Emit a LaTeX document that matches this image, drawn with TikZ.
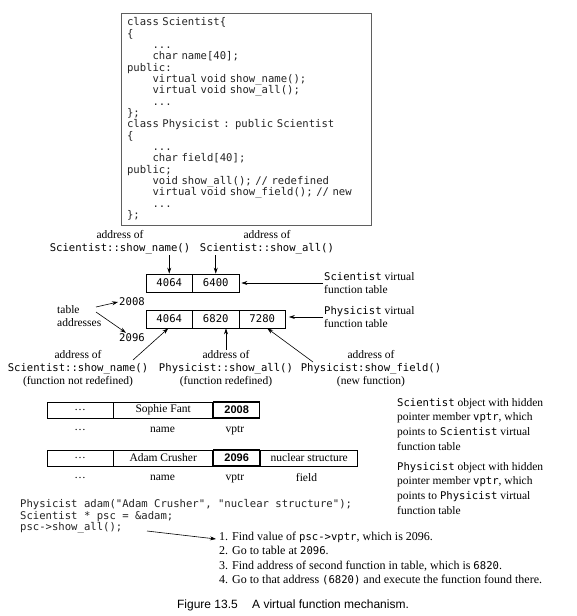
\documentclass[tikz,border=0pt]{standalone}
\usepackage{fontspec}
\setmainfont{Liberation Serif}
\setmonofont{DejaVu Sans Mono}
\newfontfamily\capfont{Liberation Sans}
\usetikzlibrary{arrows.meta,positioning}
\definecolor{boxgray}{RGB}{95,95,95}
\definecolor{codeblack}{RGB}{35,35,35}
\newcommand{\monosp}{\spaceskip=0.602em\relax}
\newcommand{\codett}{\ttfamily\fontsize{10.6}{12.5}\selectfont\monosp}
\newcommand{\txtsize}{\fontsize{11.5}{13}\selectfont}
\newcommand{\ind}{\hspace*{2.408em}}

\begin{document}
\begin{tikzpicture}[x=1pt, y=-1pt,
  lbl/.style={font=\txtsize, inner sep=1pt, align=center},
  codebox/.style={draw=boxgray, line width=0.8pt, minimum width=250pt, minimum height=212pt,
    text width=238pt, inner xsep=6pt, align=left, text=codeblack,
    font={\ttfamily\fontsize{10.6}{11.35}\selectfont\monosp}},
  cell/.style={draw, line width=0.7pt, minimum width=46.5pt, minimum height=18pt, inner sep=0pt, font=\codett},
  objcell/.style={draw, line width=0.7pt, minimum height=16pt, inner sep=0pt, font=\txtsize},
  vptrcell/.style={objcell, line width=1.3pt, minimum width=46pt, font=\capfont\bfseries\fontsize{11}{12}\selectfont},
  arr/.style={-{Stealth[length=6pt,width=4pt]}, line width=0.6pt}]
\useasboundingbox (0,0) rectangle (576,616);
% Class declarations
\node[codebox] (decl) at (246,119) {class Scientist\{\\
\{\\
\ind ...\\
\ind char name[40];\\
public:\\
\ind virtual void show\_name();\\
\ind virtual void show\_all();\\
\ind ...\\
\};\\
class Physicist : public Scientist\\
\{\\
\ind ...\\
\ind char field[40];\\
public;\\
\ind void show\_all(); // redefined\\
\ind virtual void show\_field(); // new\\
\ind ...\\
\};};
% Virtual function tables
\foreach \v [count=\i] in {4064,6400}
  \node[cell] (s\i) at ({122.75+46.5*\i},283) {\v};
\foreach \v [count=\i] in {4064,6820,7280}
  \node[cell] (p\i) at ({122.75+46.5*\i},319) {\v};
% Addresses above the Scientist table
\node[lbl] (shownm) at (120,242) {address of\\{\codett Scientist::show\_name()}};
\node[lbl] (showall) at (267,242) {address of\\{\codett Scientist::show\_all()}};
\draw[arr] (s1.north |- shownm.south) -- (s1.north);
\draw[arr] (s2.north |- shownm.south) -- (s2.north);
% Table names
\node[lbl, align=left, anchor=west] (scitab) at (323,283) {{\codett Scientist} virtual\\function table};
\node[lbl, align=left, anchor=west] (phytab) at (323,317) {{\codett Physicist} virtual\\function table};
\draw[arr, shorten >=2pt] (scitab.west) -- (s2.east);
\draw[arr, shorten >=3pt] (phytab.west) -- (p3.east |- phytab.west);
% Table addresses
\node[lbl, align=left, anchor=west] (tbladdr) at (56,316) {table\\addresses};
\node[font=\codett, inner sep=1pt] (a2008) at (132,302) {2008};
\node[font=\codett, inner sep=1pt] (a2096) at (132,338) {2096};
\coordinate (ta1) at (96,307);
\coordinate (ta2) at (96,312);
\draw[arr] (ta1) -- (a2008.west);
\draw[arr] (ta2) -- ([xshift=-6pt]a2096.north);
% Addresses below the Physicist table
\node[lbl] (notredef) at (78,369) {address of\\{\codett Scientist::show\_name()}\\(function not redefined)};
\node[lbl] (redef) at (226,369) {address of\\{\codett Physicist::show\_all()}\\(function redefined)};
\node[lbl] (newfn) at (371,369) {address of\\{\codett Physicist:show\_field()}\\(new function)};
\coordinate (nr) at (133,360);
\coordinate (nf) at (313,362);
\draw[arr] (nr) -- ([xshift=-1pt]p1.south);
\draw[arr] (redef.north) -- (redef.north |- p2.south);
\draw[arr] (nf) -- ([xshift=5pt]p3.south);
% Scientist object
\node[objcell, minimum width=66pt] (sdots) at (80,410) {\dots};
\node[objcell, minimum width=99pt, right=0pt of sdots] (sname) {Sophie Fant};
\node[vptrcell, right=0pt of sname] (svptr) {2008};
\node[lbl] (sdotsl) at (80,430) {\dots};
\node[lbl] (snamel) at (162.5,430) {name};
\node[lbl] (svptrl) at (235,430) {vptr};
% Physicist object
\node[objcell, minimum width=66pt] (adots) at (80,458) {\dots};
\node[objcell, minimum width=99pt, right=0pt of adots] (aname) {Adam Crusher};
\node[vptrcell, right=0pt of aname] (avptr) {2096};
\node[objcell, minimum width=97pt, right=0pt of avptr] (afield) {nuclear structure};
\node[lbl] (adotsl) at (80,478) {\dots};
\node[lbl] (anamel) at (162.5,478) {name};
\node[lbl] (avptrl) at (235,478) {vptr};
\node[lbl] (afieldl) at (306.5,478) {field};
% Object notes
\node[lbl, align=left, anchor=north west, font=\fontsize{11.5}{14.6}\selectfont] (scidesc) at (396,397)
  {{\codett Scientist} object with hidden\\pointer member {\codett vptr}, which\\points to {\codett Scientist} virtual\\function table};
\node[lbl, align=left, anchor=north west, font=\fontsize{11.5}{14.6}\selectfont] (phydesc) at (396,461)
  {{\codett Physicist} object with hidden\\pointer member {\codett vptr}, which\\points to {\codett Physicist} virtual\\function table};
% Call through the base pointer
\node[font={\ttfamily\fontsize{10.6}{11.7}\selectfont\monosp}, align=left, anchor=north west, inner sep=1pt, text=codeblack] (usage) at (19,498)
  {Physicist adam("Adam Crusher", "nuclear structure");\\Scientist * psc = \&adam;\\psc->show\_all();};
\node[lbl, align=left, anchor=north west, font=\fontsize{12}{14.3}\selectfont] (steps) at (218,531)
  {1. Find value of {\codett psc->vptr}, which is 2096.\\
   2. Go to table at {\codett 2096}.\\
   3. Find address of second function in table, which is {\codett 6820}.\\
   4. Go to that address {\codett (6820)} and execute the function found there.};
\coordinate (callsite) at (147,531);
\draw[arr] (callsite) -- ([shift={(-2pt,-8pt)}]steps.north west);
% Caption
\node[font=\capfont\fontsize{12}{14}\selectfont] (caption) at (293,605) {Figure 13.5\hspace{1.2em}A virtual function mechanism.};
\end{tikzpicture}
\end{document}
